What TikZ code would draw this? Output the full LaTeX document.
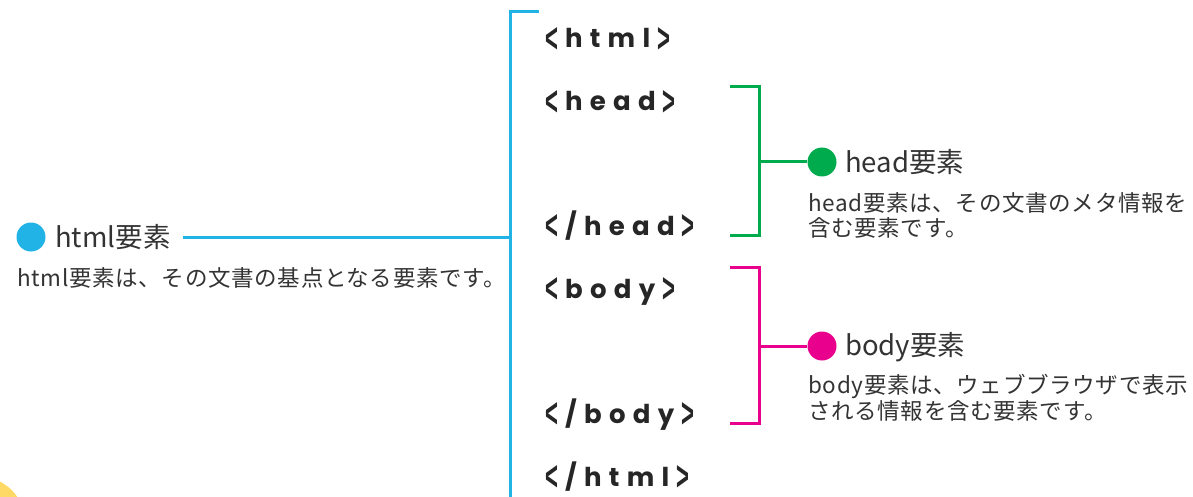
\documentclass[tikz,border=0pt]{standalone}
\usepackage{fontspec}
\newfontfamily\jp{Noto Sans CJK JP}
\newfontfamily\jpd{Noto Sans CJK JP}[LetterSpace=3]
\newfontfamily\tagfont{Poppins}[LetterSpace=28]
\newfontfamily\brfont{Liberation Sans}
\newcommand{\ltag}{\raisebox{-4.5pt}{\scalebox{0.85}[1.6]{\brfont\bfseries<}}\hspace{7pt}}
\newcommand{\rtag}{\hspace{7pt}\raisebox{-4.5pt}{\scalebox{0.85}[1.6]{\brfont\bfseries>}}}
\definecolor{cblue}{HTML}{22B3E6}
\definecolor{cgreen}{HTML}{00AB4E}
\definecolor{cpink}{HTML}{E9008C}
\definecolor{cyellow}{HTML}{FFD966}
\definecolor{ctext}{HTML}{333333}
\begin{document}
\begin{tikzpicture}[x=1pt,y=-1pt,
  tagtext/.style={anchor=base west,inner sep=0pt,font=\tagfont\bfseries\fontsize{26}{26}\selectfont,text=black!85},
  lbl/.style={anchor=west,inner sep=0pt,font=\jp\fontsize{27.5}{27.5}\selectfont,text=ctext},
  desc/.style={anchor=west,inner sep=0pt,font=\jpd\fontsize{22.5}{22.5}\selectfont,text=ctext},
  dot/.style={circle,fill=#1,minimum size=29pt,inner sep=0pt},
  conn/.style={draw=#1,line width=3pt}]
\useasboundingbox (0,0) rectangle (1193,497);
\fill[cyellow] (-20,522) circle (45);

% tags
\node[tagtext] (t1) at (545,48) {\ltag html\rtag};
\node[tagtext] (t2) at (545,111) {\ltag head\rtag};
\node[tagtext] (t3) at (545,235) {\ltag/head\rtag};
\node[tagtext] (t4) at (545,298) {\ltag body\rtag};
\node[tagtext] (t5) at (545,423) {\ltag/body\rtag};
\node[tagtext] (t6) at (545,486) {\ltag/html\rtag};

% html
\coordinate (btop) at (510,12);
\coordinate (btick) at (539,12);
\coordinate (bbot) at (510,500);
\coordinate (bmid) at (510,237);
\draw[conn=cblue] (btick) -- (btop) -- (bbot);
\node[dot=cblue] (hd) at (31,237) {};
\node[lbl] (hl) at (55,237) {html要素};
\draw[conn=cblue] ([xshift=12pt]hl.east) -- (bmid);
\node[desc] (hdesc) at (17,278) {html要素は、その文書の基点となる要素です。};

% head
\coordinate (g1) at (730,87);
\coordinate (g2) at (759,87);
\coordinate (g3) at (759,235);
\coordinate (g4) at (730,235);
\coordinate (gm) at (759,162);
\draw[conn=cgreen] (g1) -- (g2) -- (g3) -- (g4);
\node[dot=cgreen] (gd) at (822,162) {};
\draw[conn=cgreen] (gm) -- (gd);
\node[lbl] (gl) at (845,162) {head要素};
\node[desc] (gdesc1) at (808,203) {head要素は、その文書のメタ情報を};
\node[desc] (gdesc2) at (808,228) {含む要素です。};

% body
\coordinate (p1) at (730,267);
\coordinate (p2) at (759,267);
\coordinate (p3) at (759,423);
\coordinate (p4) at (730,423);
\coordinate (pm) at (759,346);
\draw[conn=cpink] (p1) -- (p2) -- (p3) -- (p4);
\node[dot=cpink] (pd) at (822,346) {};
\draw[conn=cpink] (pm) -- (pd);
\node[lbl] (pl) at (845,347) {body要素};
\node[desc] (pdesc1) at (808,386) {body要素は、ウェブブラウザで表示};
\node[desc] (pdesc2) at (808,411) {される情報を含む要素です。};
\end{tikzpicture}
\end{document}
